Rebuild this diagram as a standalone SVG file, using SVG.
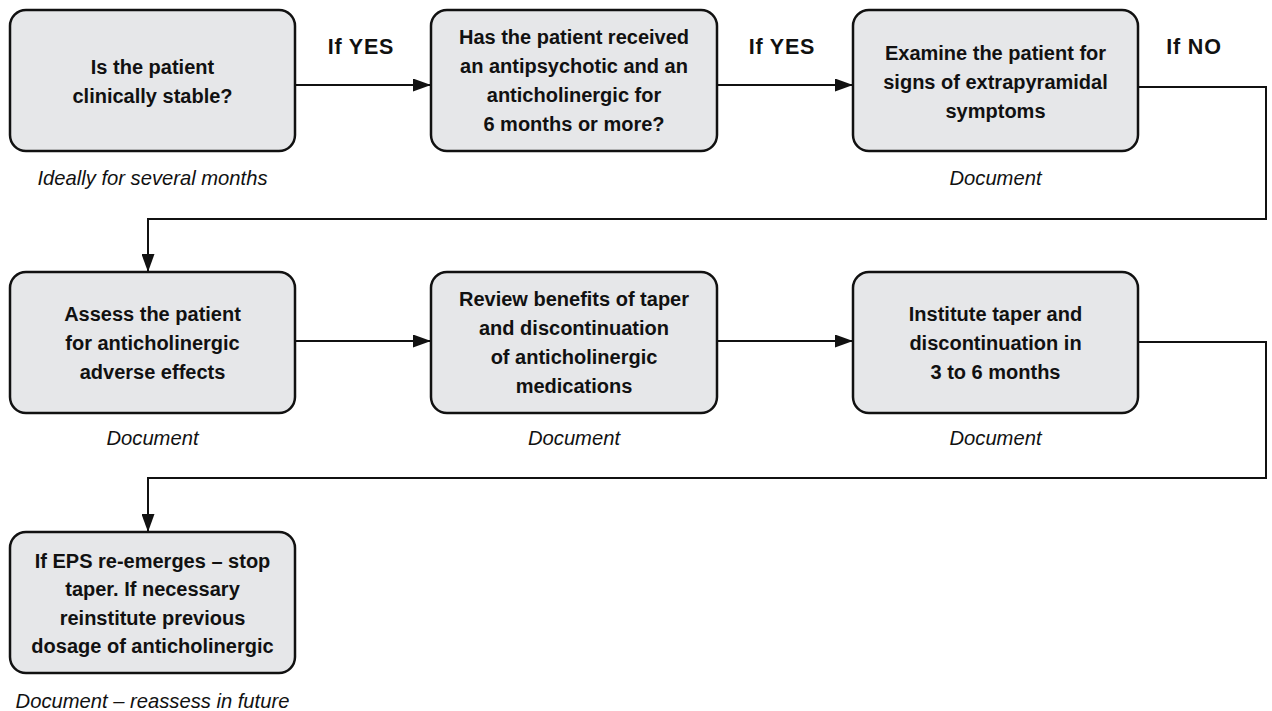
<svg xmlns="http://www.w3.org/2000/svg" width="1272" height="711" viewBox="0 0 1272 711">
<defs>
<style>
.box{fill:#e6e7e9;stroke:#111;stroke-width:2.5}
.t{font-family:"Liberation Sans",Arial,sans-serif;font-weight:bold;font-size:20px;fill:#111;text-anchor:middle}
.n{font-family:"Liberation Sans",Arial,sans-serif;font-style:italic;font-size:20.2px;fill:#111;text-anchor:middle}
.lbl{font-family:"Liberation Sans",Arial,sans-serif;font-weight:bold;font-size:21.5px;fill:#111;text-anchor:middle;letter-spacing:0.8px}
.c{fill:none;stroke:#111;stroke-width:2}
</style>
<marker id="ah" markerUnits="userSpaceOnUse" markerWidth="18" markerHeight="13" refX="18" refY="6.5" orient="auto">
<path d="M0,0 L18,6.5 L0,13 z" fill="#111"/>
</marker>
</defs>
<rect width="1272" height="711" fill="#fff"/>

<g id="connectors">
<path class="c" d="M295 85 H431" marker-end="url(#ah)"/>
<path class="c" d="M717 85 H853" marker-end="url(#ah)"/>
<path class="c" d="M1138 87 H1266 V219 H148 V272" marker-end="url(#ah)"/>
<path class="c" d="M295 341 H431" marker-end="url(#ah)"/>
<path class="c" d="M717 341 H853" marker-end="url(#ah)"/>
<path class="c" d="M1138 342 H1266 V478 H148 V532" marker-end="url(#ah)"/>
<text class="lbl" x="361" y="54">If YES</text>
<text class="lbl" x="782" y="54">If YES</text>
<text class="lbl" x="1194" y="54">If NO</text>
</g>

<g id="n1">
<rect class="box" x="10" y="10" width="285" height="141" rx="16"/>
<text class="t" x="152.5" y="74">Is the patient</text>
<text class="t" x="152.5" y="103">clinically stable?</text>
<text class="n" x="152.5" y="185">Ideally for several months</text>
</g>

<g id="n2">
<rect class="box" x="431" y="10" width="286" height="141" rx="16"/>
<text class="t" x="574" y="44">Has the patient received</text>
<text class="t" x="574" y="73">an antipsychotic and an</text>
<text class="t" x="574" y="102">anticholinergic for</text>
<text class="t" x="574" y="131">6 months or more?</text>
</g>

<g id="n3">
<rect class="box" x="853" y="10" width="285" height="141" rx="16"/>
<text class="t" x="995.5" y="59.5">Examine the patient for</text>
<text class="t" x="995.5" y="88.5">signs of extrapyramidal</text>
<text class="t" x="995.5" y="117.5">symptoms</text>
<text class="n" x="995.5" y="185">Document</text>
</g>

<g id="n4">
<rect class="box" x="10" y="272" width="285" height="141" rx="16"/>
<text class="t" x="152.5" y="320.5">Assess the patient</text>
<text class="t" x="152.5" y="349.5">for anticholinergic</text>
<text class="t" x="152.5" y="378.5">adverse effects</text>
<text class="n" x="152.5" y="445">Document</text>
</g>

<g id="n5">
<rect class="box" x="431" y="272" width="286" height="141" rx="16"/>
<text class="t" x="574" y="306">Review benefits of taper</text>
<text class="t" x="574" y="335">and discontinuation</text>
<text class="t" x="574" y="364">of anticholinergic</text>
<text class="t" x="574" y="393">medications</text>
<text class="n" x="574" y="445">Document</text>
</g>

<g id="n6">
<rect class="box" x="853" y="272" width="285" height="141" rx="16"/>
<text class="t" x="995.5" y="321">Institute taper and</text>
<text class="t" x="995.5" y="350">discontinuation in</text>
<text class="t" x="995.5" y="379">3 to 6 months</text>
<text class="n" x="995.5" y="445">Document</text>
</g>

<g id="n7">
<rect class="box" x="10" y="532" width="285" height="141" rx="16"/>
<text class="t" x="152.5" y="567.5">If EPS re-emerges – stop</text>
<text class="t" x="152.5" y="596">taper. If necessary</text>
<text class="t" x="152.5" y="624.5">reinstitute previous</text>
<text class="t" x="152.5" y="653">dosage of anticholinergic</text>
<text class="n" x="152.5" y="708">Document – reassess in future</text>
</g>
</svg>
